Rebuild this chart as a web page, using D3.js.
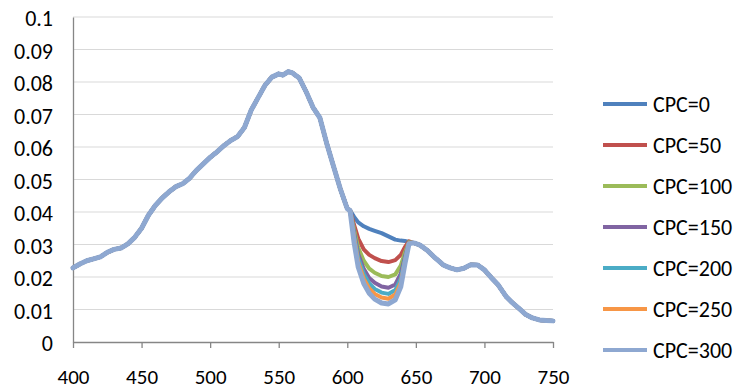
<!DOCTYPE html>
<html>
<head>
<meta charset="utf-8">
<script src="https://cdn.jsdelivr.net/npm/d3@7"></script>
<style>
  body { margin: 0; background: #fff; }
  svg { display: block; }
  text { font-family: Carlito, "Liberation Sans", Arial, sans-serif; fill: #000; }
</style>
</head>
<body>
<svg width="737" height="390"></svg>
<script>
// wavelengths / values shared by every series (outside the dip)
const leftWl = [400, 405, 410, 415, 420, 425, 430, 435, 440, 445, 450, 455, 460, 465, 470, 475, 480, 485, 490, 495,
                500, 505, 510, 515, 520, 525, 530, 535, 540, 545, 550, 553, 557, 560, 565, 570, 575, 580, 585, 590, 595, 600]
const leftVal = [0.0228, 0.0240, 0.0250, 0.0256, 0.0262, 0.0276, 0.0285, 0.0289, 0.0302, 0.0322, 0.0350, 0.0390, 0.0420, 0.0443, 0.0462, 0.0478, 0.0487, 0.0504, 0.0528, 0.0548,
                 0.0568, 0.0585, 0.0604, 0.0620, 0.0632, 0.0660, 0.0714, 0.0752, 0.0790, 0.0815, 0.0825, 0.0821, 0.0832, 0.0828, 0.0812, 0.0770, 0.0722, 0.0690, 0.0611, 0.0540, 0.0470, 0.0410]
const rightWl = [650, 653, 658, 663, 670, 675, 680, 685, 690, 695, 700, 705, 710, 716, 720, 725, 730, 735, 740, 745, 750]
const rightVal = [0.0303, 0.0298, 0.0283, 0.0263, 0.0237, 0.0228, 0.0222, 0.0227, 0.0238, 0.0237, 0.0222, 0.0198, 0.0176, 0.0139, 0.0122, 0.0104, 0.0085, 0.0074, 0.0068, 0.0066, 0.0065]

// the dip region, one list per series
const dipWl = [602, 605, 608, 612, 616, 620, 625, 630, 635, 639, 642, 645, 648]
const cpc0   = [0.0405, 0.0385, 0.0368, 0.0356, 0.0348, 0.0342, 0.0335, 0.0325, 0.0315, 0.0312, 0.0311, 0.0308, 0.0305]
const cpc50  = [0.0405, 0.0360, 0.0318, 0.0285, 0.0268, 0.0258, 0.0249, 0.0246, 0.0252, 0.0268, 0.0292, 0.0310, 0.0305]
const cpc100 = [0.0405, 0.0345, 0.0290, 0.0250, 0.0226, 0.0213, 0.0203, 0.0200, 0.0208, 0.0235, 0.0275, 0.0308, 0.0305]
const cpc150 = [0.0405, 0.0335, 0.0270, 0.0225, 0.0197, 0.0182, 0.0171, 0.0167, 0.0177, 0.0210, 0.0262, 0.0306, 0.0305]
const cpc200 = [0.0405, 0.0328, 0.0258, 0.0210, 0.0180, 0.0163, 0.0152, 0.0148, 0.0160, 0.0195, 0.0255, 0.0305, 0.0305]
const cpc250 = [0.0405, 0.0320, 0.0245, 0.0195, 0.0165, 0.0148, 0.0137, 0.0133, 0.0146, 0.0183, 0.0248, 0.0304, 0.0305]
const cpc300 = [0.0405, 0.0305, 0.0230, 0.0180, 0.0150, 0.0132, 0.0120, 0.0117, 0.0130, 0.0170, 0.0240, 0.0302, 0.0305]

const seriesNames = ['CPC=0', 'CPC=50', 'CPC=100', 'CPC=150', 'CPC=200', 'CPC=250', 'CPC=300']
const dips = [cpc0, cpc50, cpc100, cpc150, cpc200, cpc250, cpc300]
const colors = ['#4F81BD', '#C0504D', '#9BBB59', '#8064A2', '#4BACC6', '#F79646', '#8EA8D1']

const xTicks = [400, 450, 500, 550, 600, 650, 700, 750]
const yTicks = [0, 0.01, 0.02, 0.03, 0.04, 0.05, 0.06, 0.07, 0.08, 0.09, 0.1]

let svg = d3.select('svg')

let x = d3.scaleLinear().domain([400, 750]).range([73, 553])
let y = d3.scaleLinear().domain([0, 0.1]).range([342, 17])

// gridlines
svg.append('g')
    .selectAll('line')
    .data(yTicks.slice(1))
    .enter().append('line')
    .attr('x1', 73).attr('x2', 553)
    .attr('y1', d => y(d)).attr('y2', d => y(d))
    .attr('stroke', '#D9D9D9').attr('stroke-width', 1)

// y axis (no tick marks)
let yAxis = svg.append('g')
    .attr('transform', 'translate(73,0)')
    .call(d3.axisLeft(y).tickValues(yTicks).tickSize(0).tickPadding(20).tickFormat(d => d3.format('')(+d.toFixed(2))))
yAxis.select('.domain').attr('stroke', '#868686').attr('stroke-width', 1.3)
yAxis.selectAll('text').style('font-size', '22px').attr('fill', '#000').attr('dy', '0.4em')

// x axis
let xAxis = svg.append('g')
    .attr('transform', 'translate(0,342)')
    .call(d3.axisBottom(x).tickValues(xTicks).tickSizeInner(6).tickSizeOuter(0).tickPadding(21))
xAxis.select('.domain').attr('stroke', '#868686').attr('stroke-width', 1.3)
xAxis.selectAll('.tick line').attr('stroke', '#868686').attr('stroke-width', 1.3)
xAxis.selectAll('text').style('font-size', '21px').attr('fill', '#000')

// build each series: common left part + its own dip + common right part
let series = dips.map((dip, i) => {
    let pts = []
    leftWl.forEach((w, j) => pts.push([w, leftVal[j]]))
    dipWl.forEach((w, j) => pts.push([w, dip[j]]))
    rightWl.forEach((w, j) => pts.push([w, rightVal[j]]))
    return { name: seriesNames[i], color: colors[i], points: pts }
})

let line = d3.line()
    .x(d => x(d[0]))
    .y(d => y(d[1]))

svg.append('g')
    .selectAll('path')
    .data(series)
    .enter().append('path')
    .attr('d', d => line(d.points))
    .attr('fill', 'none')
    .attr('stroke', d => d.color)
    .attr('stroke-width', d => d.name === 'CPC=300' ? 5 : 4)
    .attr('stroke-linejoin', 'round')
    .attr('stroke-linecap', 'round')

// legend
let legend = svg.append('g')
    .selectAll('g')
    .data(series)
    .enter().append('g')
    .attr('transform', (d, i) => 'translate(603,' + (104 + i * 41) + ')')

legend.append('line')
    .attr('x1', 0).attr('x2', 44)
    .attr('stroke', d => d.color)
    .attr('stroke-width', 4)

legend.append('text')
    .attr('x', 50)
    .attr('dy', '0.36em')
    .style('font-size', '22px')
    .text(d => d.name)
</script>
</body>
</html>
